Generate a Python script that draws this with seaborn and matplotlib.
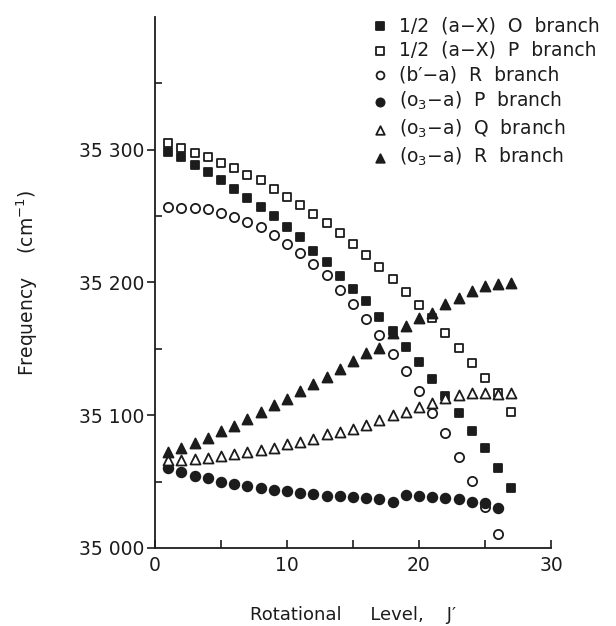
import numpy as np
import pandas as pd
import matplotlib
matplotlib.use("Agg")
import matplotlib.pyplot as plt
from matplotlib.ticker import MultipleLocator, FixedLocator, FixedFormatter
import seaborn as sns

# Rotational levels J'
J27 = list(range(1, 28))
J26 = list(range(1, 27))

# Term frequencies (cm^-1) for each branch
o_branch_aX = [35298, 35294.5, 35288.5, 35283, 35277, 35270.5, 35264, 35257, 35250,
               35241.5, 35234, 35224, 35215.5, 35205, 35195, 35186, 35174, 35163.5,
               35151.5, 35140, 35127, 35114.5, 35102, 35088.5, 35075, 35060, 35045]
p_branch_aX = [35305, 35301.5, 35297.5, 35294.5, 35290, 35286, 35281, 35277, 35270.5,
               35264.5, 35258.5, 35251.5, 35244.5, 35237, 35229, 35220.5, 35211.5,
               35202.5, 35193, 35183, 35173, 35162, 35151, 35139, 35128, 35116.5, 35102.5]
r_branch_ba = [35256.5, 35256, 35256, 35255, 35252, 35249.5, 35245.5, 35241.5, 35236,
               35229, 35222.5, 35214, 35206, 35194, 35184, 35172.5, 35160.5, 35146.5,
               35133, 35118, 35102, 35086.5, 35068.5, 35050.5, 35031, 35010.5]
p_branch_o3 = [35060.5, 35057, 35054, 35052.5, 35050, 35048.5, 35046.5, 35045.5, 35044,
               35043, 35041.5, 35041, 35039.5, 35039, 35038.5, 35038, 35037, 35035,
               35040, 35039, 35038.5, 35038, 35037, 35035, 35034, 35030.5]
q_branch_o3 = [35066, 35066.5, 35067, 35068, 35069, 35070.5, 35072, 35073.5, 35075,
               35078, 35080, 35082, 35085.5, 35087.5, 35090, 35093, 35096.5, 35100.5,
               35102.5, 35106, 35109.5, 35113, 35115.5, 35116.5, 35117, 35116, 35116.5]
r_branch_o3 = [35072, 35075.5, 35079, 35083, 35088, 35092, 35097.5, 35102.5, 35107.5,
               35112.5, 35118, 35123.5, 35129, 35134.5, 35140.5, 35147, 35150.5, 35162,
               35167.5, 35173.5, 35177, 35183.5, 35188.5, 35193.5, 35197.5, 35199, 35199.5]

labels = ["1/2  (a\u2212X)  O  branch", "1/2  (a\u2212X)  P  branch", "(b\u2032\u2212a)  R  branch",
          "(o$_3$\u2212a)  P  branch", "(o$_3$\u2212a)  Q  branch", "(o$_3$\u2212a)  R  branch"]

y_ticks = [35000, 35100, 35200, 35300]
y_tick_labels = ["35 000", "35 100", "35 200", "35 300"]

sns.set_theme(style="white")
plt.rcParams["font.family"] = ["DejaVu Sans"]
plt.rcParams["mathtext.fontset"] = "dejavusans"

ink = "#1c1c1c"

series = [
    (J27, o_branch_aX, "s", True, 38),
    (J27, p_branch_aX, "s", False, 38),
    (J26, r_branch_ba, "o", False, 44),
    (J26, p_branch_o3, "o", True, 48),
    (J27, q_branch_o3, "^", False, 52),
    (J27, r_branch_o3, "^", True, 52),
]

frames = []
for (jj, vals, _, _, _), lab in zip(series, labels):
    frames.append(pd.DataFrame({"J": jj, "freq": vals, "branch": lab}))
df = pd.concat(frames, ignore_index=True)

fig = plt.figure(figsize=(6.16, 6.26), dpi=100)
ax = fig.add_axes([155 / 616, 78 / 626, 396 / 616, 531 / 626])

for (jj, vals, mk, filled, sz), lab in zip(series, labels):
    sub = df[df["branch"] == lab]
    sns.scatterplot(data=sub, x="J", y="freq", ax=ax, marker=mk, s=sz,
                    color=ink if filled else "white", edgecolor=ink,
                    linewidth=1.3, label=lab, zorder=3)

ax.set_xlim(0, 30)
ax.set_ylim(35000, 35400)

for side in ["top", "right"]:
    ax.spines[side].set_visible(False)
for side in ["left", "bottom"]:
    ax.spines[side].set_color(ink)
    ax.spines[side].set_linewidth(1.3)

ax.xaxis.set_major_locator(MultipleLocator(10))
ax.xaxis.set_minor_locator(MultipleLocator(5))
ax.yaxis.set_major_locator(FixedLocator(y_ticks))
ax.yaxis.set_major_formatter(FixedFormatter(y_tick_labels))
ax.yaxis.set_minor_locator(FixedLocator([35050, 35150, 35250, 35350]))

ax.tick_params(axis="x", which="both", direction="in", length=6, width=1.2,
               colors=ink, labelsize=13.5, pad=6, bottom=True)
ax.tick_params(axis="y", which="major", direction="out", length=6, width=1.2,
               colors=ink, labelsize=13.5, pad=2, left=True)
ax.tick_params(axis="y", which="minor", direction="in", length=5, width=1.2,
               colors=ink, left=True)

ax.set_xlabel("Rotational     Level,    J\u2032", fontsize=13, color=ink, labelpad=22)
ax.set_ylabel("Frequency    (cm$^{-1}$)", fontsize=13.5, color=ink)
ax.yaxis.set_label_coords(-0.29, 0.5)

leg = ax.legend(loc="upper left", bbox_to_anchor=(0.53, 1.016), frameon=False,
                fontsize=13.5, handlelength=0.8, handletextpad=0.6,
                labelspacing=0.3, markerscale=0.85, borderaxespad=0)
for t in leg.get_texts():
    t.set_color(ink)

fig.savefig("out.png", dpi=100, facecolor="white")
